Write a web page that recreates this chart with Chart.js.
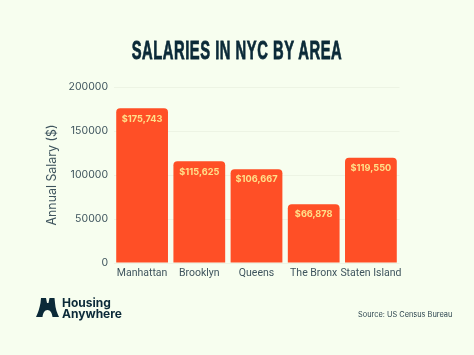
<!DOCTYPE html>
<html>
<head>
<meta charset="utf-8">
<script src="https://cdn.jsdelivr.net/npm/chart.js@4"></script>
<style>
html,body{margin:0;padding:0;background:#F7FEEF;}
#wrap{position:relative;width:474px;height:355px;overflow:hidden;background:#F7FEEF;}
canvas{position:absolute;left:0;top:0;}
#title{position:absolute;left:0;width:474px;top:35px;text-align:center;font:700 25px/30px "Liberation Sans",sans-serif;color:#0B2A38;letter-spacing:.9px;white-space:nowrap;-webkit-text-stroke:.8px #0B2A38;transform:scaleX(.59);transform-origin:237px 50%;}
#logoText{position:absolute;left:62px;top:296.500px;font:700 12px/11.2px Inter,sans-serif;color:#0B2A38;}
#source{position:absolute;left:358px;top:309px;font:400 7.4px/12px Inter,sans-serif;color:#2E4650;white-space:nowrap;}
svg{position:absolute;left:35px;top:297px;}
</style>
</head>
<body>
<div id="wrap">
<canvas id="c" width="474" height="355"></canvas>
<div id="title">SALARIES IN NYC BY AREA</div>
<svg width="25" height="21" viewBox="0 0 25 21"><path fill="#0B2A38" d="M6 1h5l1 5h1.500l1-5h5l.5 5c.3 5 2 10 4 14h-6.500c-.5-4-2-7-5-7s-4.500 3-5 7H1c2-4 3.500-9 4.500-14z"/></svg>
<div id="logoText">Housing<br>Anywhere</div>
<div id="source">Source: US Census Bureau</div>
</div>
<script>
const categories = ["Manhattan","Brooklyn","Queens","The Bronx","Staten Island"];
const salaries = [175743,115625,106667,66878,119550];
const valueLabels = ["$175,743","$115,625","$106,667","$66,878","$119,550"];
const yTicks = [0,50000,100000,150000,200000];
const barLabels = {
  id:'barLabels',
  afterDatasetsDraw(chart){
    const ctx = chart.ctx, meta = chart.getDatasetMeta(0);
    ctx.save();
    ctx.font = '700 9.2px Inter, sans-serif';
    ctx.fillStyle = '#FFE08A';
    ctx.textAlign = 'center';
    ctx.textBaseline = 'middle';
    meta.data.forEach((b,i)=>ctx.fillText(valueLabels[i], b.x, b.y + 10.5));
    ctx.restore();
  }
};
new Chart(document.getElementById('c'),{
  type:'bar',
  data:{labels:categories,datasets:[{data:salaries,backgroundColor:'#FF4F26',barPercentage:0.905,categoryPercentage:1,
    borderRadius:{topLeft:4,topRight:4,bottomLeft:0,bottomRight:0},borderSkipped:false}]},
  plugins:[barLabels],
  options:{
    responsive:false,animation:false,
    layout:{padding:{left:44.5,right:74.5,top:87,bottom:62}},
    plugins:{legend:{display:false},tooltip:{enabled:false},title:{display:false}},
    scales:{
      x:{
        afterFit(s){s.height=30;},
        grid:{display:false,drawTicks:false},border:{display:false},
        ticks:{color:'#3F555E',font:{family:'Roboto',size:10.5},padding:4,maxRotation:0,autoSkip:false}
      },
      y:{
        min:0,max:200000,
        afterFit(s){s.width=69;},
        afterBuildTicks(s){s.ticks=yTicks.map(v=>({value:v}));},
        grid:{color:'#EDF4E4',lineWidth:1,drawTicks:false},border:{display:false},
        title:{display:true,text:'Annual Salary ($)',color:'#3F555E',font:{family:'Inter',size:12.4},padding:{top:0,bottom:0}},
        ticks:{color:'#3F555E',font:{family:'Inter',size:10.5},padding:5.5,callback:v=>String(v)}
      }
    }
  }
});
</script>
</body>
</html>
